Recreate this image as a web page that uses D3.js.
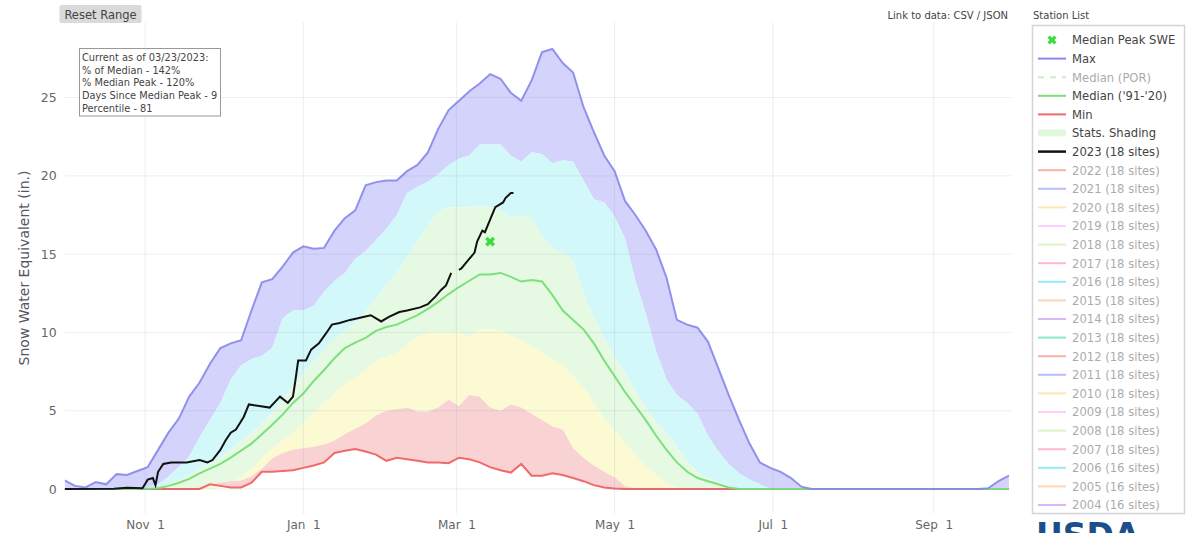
<!DOCTYPE html>
<meta charset="utf-8">
<style>
  body {
      margin: 0;
      padding: 0;
      background: #fff;
      font-family: 'DejaVu Sans', Verdana, sans-serif;
  }
  .tick text {
      fill: #666;
      font-size: 12px;
      font-family: 'DejaVu Sans', Verdana, sans-serif;
      white-space: pre;
  }
  .grid line {
      stroke: rgba(110, 120, 160, 0.13);
      stroke-width: 1;
  }
</style>
<body>
<svg id="chart" width="1204" height="533"></svg>
<script src="https://d3js.org/d3.v7.min.js"></script>
<script>
// stats every 4 days through the water year
var dates = [
    "2022-10-01","2022-10-05","2022-10-09","2022-10-13","2022-10-17","2022-10-21","2022-10-25","2022-10-29",
    "2022-11-02","2022-11-06","2022-11-10","2022-11-14","2022-11-18","2022-11-22","2022-11-26","2022-11-30",
    "2022-12-04","2022-12-08","2022-12-12","2022-12-16","2022-12-20","2022-12-24","2022-12-28",
    "2023-01-01","2023-01-05","2023-01-09","2023-01-13","2023-01-17","2023-01-21","2023-01-25","2023-01-29",
    "2023-02-02","2023-02-06","2023-02-10","2023-02-14","2023-02-18","2023-02-22","2023-02-26",
    "2023-03-02","2023-03-06","2023-03-10","2023-03-14","2023-03-18","2023-03-22","2023-03-26","2023-03-30",
    "2023-04-03","2023-04-07","2023-04-11","2023-04-15","2023-04-19","2023-04-23","2023-04-27",
    "2023-05-01","2023-05-05","2023-05-09","2023-05-13","2023-05-17","2023-05-21","2023-05-25","2023-05-29",
    "2023-06-02","2023-06-06","2023-06-10","2023-06-14","2023-06-18","2023-06-22","2023-06-26","2023-06-30",
    "2023-07-04","2023-07-08","2023-07-12","2023-07-16","2023-07-20","2023-07-24","2023-07-28",
    "2023-08-01","2023-08-05","2023-08-09","2023-08-13","2023-08-17","2023-08-21","2023-08-25","2023-08-29",
    "2023-09-02","2023-09-06","2023-09-10","2023-09-14","2023-09-18","2023-09-22","2023-09-26","2023-09-30"
];

var maxSwe = [
    0.55, 0.2, 0.1, 0.45, 0.3, 0.95, 0.9, 1.15, 1.4, 2.5,
    3.6, 4.5, 5.9, 6.8, 8.0, 9.0, 9.3, 9.5, 11.4, 13.2,
    13.4, 14.2, 15.1, 15.5, 15.35, 15.4, 16.5, 17.3, 17.8, 19.4,
    19.6, 19.7, 19.7, 20.3, 20.7, 21.5, 23.0, 24.2, 24.8, 25.4,
    25.9, 26.5, 26.2, 25.3, 24.8, 26.1, 27.9, 28.1, 27.2, 26.6,
    24.4, 22.8, 21.3, 20.3, 18.4, 17.5, 16.5, 15.3, 13.5, 10.8,
    10.5, 10.3, 9.4, 7.7, 6.0, 4.4, 2.9, 1.7, 1.35, 1.1,
    0.7, 0.15, 0, 0, 0, 0, 0, 0, 0, 0,
    0, 0, 0, 0, 0, 0, 0, 0, 0, 0.05,
    0.5, 0.85
];

var p90 = [
    0, 0, 0, 0, 0, 0, 0, 0, 0.1, 0.3,
    0.8, 1.4, 2.1, 3.3, 4.4, 5.5, 7.0, 7.9, 8.3, 8.5,
    9.0, 10.9, 11.4, 11.4, 11.7, 12.6, 13.3, 13.8, 14.7, 15.2,
    15.9, 16.6, 17.5, 18.9, 19.3, 19.6, 20.1, 20.7, 21.1, 21.3,
    22.0, 22.0, 22.0, 21.3, 20.9, 21.5, 21.4, 20.8, 21.0, 20.9,
    19.7, 18.5, 18.3, 17.4, 16.0, 13.3, 11.2, 8.8, 7.0, 6.0,
    5.5, 4.8, 3.4, 2.4, 1.6, 1.0, 0.6, 0.3, 0, 0,
    0, 0, 0, 0, 0, 0, 0, 0, 0, 0,
    0, 0, 0, 0, 0, 0, 0, 0, 0, 0,
    0, 0
];

var p70 = [
    0, 0, 0, 0, 0, 0, 0, 0, 0, 0.05,
    0.3, 0.55, 0.9, 1.3, 1.65, 2.0, 2.5, 3.1, 3.6, 4.2,
    4.9, 5.7, 6.6, 7.4, 8.2, 8.9, 9.6, 10.1, 10.6, 11.3,
    12.2, 13.0, 13.8, 14.8, 15.8, 16.8, 17.7, 18.0, 18.0, 18.0,
    18.1, 18.0, 17.8, 17.3, 17.5, 17.3, 16.2, 15.4, 15.1, 14.6,
    12.5, 11.0, 9.6, 8.5, 7.4, 6.3, 5.2, 4.3, 3.6, 2.7,
    1.8, 1.1, 0.7, 0.45, 0.2, 0.05, 0, 0, 0, 0,
    0, 0, 0, 0, 0, 0, 0, 0, 0, 0,
    0, 0, 0, 0, 0, 0, 0, 0, 0, 0,
    0, 0
];

var medianSwe = [
    0, 0, 0, 0, 0, 0, 0, 0, 0.02, 0.05,
    0.2, 0.4, 0.65, 1.0, 1.3, 1.6, 2.0, 2.45, 2.9, 3.5,
    4.1, 4.75, 5.5, 6.1, 6.9, 7.6, 8.35, 9.0, 9.35, 9.65,
    10.1, 10.35, 10.5, 10.8, 11.1, 11.5, 11.95, 12.45, 12.9, 13.3,
    13.7, 13.7, 13.8, 13.55, 13.25, 13.35, 13.25, 12.4, 11.4, 10.8,
    10.2, 9.3, 8.2, 7.2, 6.2, 5.3, 4.4, 3.4, 2.5, 1.7,
    1.1, 0.7, 0.5, 0.3, 0.1, 0, 0, 0, 0, 0,
    0, 0, 0, 0, 0, 0, 0, 0, 0, 0,
    0, 0, 0, 0, 0, 0, 0, 0, 0, 0,
    0, 0
];

var p30 = [
    0, 0, 0, 0, 0, 0, 0, 0, 0, 0,
    0, 0, 0, 0, 0, 0.1, 0.4, 0.8, 1.3, 1.95,
    2.6, 3.1, 3.6, 4.2, 4.9, 5.5, 6.1, 6.7, 7.1, 7.6,
    8.2, 8.4, 8.7, 9.2, 9.7, 10.0, 10.0, 10.0, 10.0, 9.7,
    10.2, 10.2, 10.1, 9.8, 9.5, 9.1, 8.7, 8.3, 7.9, 7.2,
    6.5, 5.5, 4.5, 3.7, 2.9, 2.2, 1.5, 0.9, 0.4, 0.1,
    0, 0, 0, 0, 0, 0, 0, 0, 0, 0,
    0, 0, 0, 0, 0, 0, 0, 0, 0, 0,
    0, 0, 0, 0, 0, 0, 0, 0, 0, 0,
    0, 0
];

var p10 = [
    0, 0, 0, 0, 0, 0, 0, 0, 0, 0,
    0, 0, 0, 0.1, 0.3, 0.4, 0.5, 0.55, 0.8, 1.3,
    1.95, 2.3, 2.5, 2.6, 2.7, 2.85, 3.1, 3.5, 3.85, 4.2,
    4.7, 5.0, 5.1, 5.2, 4.95, 4.95, 5.2, 5.7, 5.3, 6.0,
    5.9, 5.2, 5.0, 5.4, 5.2, 4.8, 4.4, 4.0, 3.8, 2.6,
    2.0, 1.5, 1.1, 0.75, 0.2, 0.05, 0, 0, 0, 0,
    0, 0, 0, 0, 0, 0, 0, 0, 0, 0,
    0, 0, 0, 0, 0, 0, 0, 0, 0, 0,
    0, 0, 0, 0, 0, 0, 0, 0, 0, 0,
    0, 0
];

var minSwe = [
    0, 0, 0, 0, 0, 0, 0, 0, 0, 0,
    0, 0, 0, 0, 0.3, 0.2, 0.1, 0.1, 0.4, 1.1,
    1.1, 1.15, 1.2, 1.35, 1.5, 1.7, 2.3, 2.45, 2.55, 2.4,
    2.2, 1.8, 2.0, 1.9, 1.8, 1.7, 1.7, 1.65, 2.0, 1.9,
    1.7, 1.4, 1.2, 1.05, 1.6, 0.85, 0.85, 1.0, 0.9, 0.7,
    0.5, 0.25, 0.1, 0.03, 0, 0, 0, 0, 0, 0,
    0, 0, 0, 0, 0, 0, 0, 0, 0, 0,
    0, 0, 0, 0, 0, 0, 0, 0, 0, 0,
    0, 0, 0, 0, 0, 0, 0, 0, 0, 0,
    0, 0
];

// current year, null = missing day
var dates2023 = [
    "2022-10-01","2022-10-20","2022-10-25","2022-10-31","2022-11-02","2022-11-04","2022-11-05","2022-11-06",
    "2022-11-08","2022-11-11","2022-11-17","2022-11-22","2022-11-25","2022-11-27","2022-11-30","2022-12-02",
    "2022-12-04","2022-12-06","2022-12-09","2022-12-11","2022-12-15","2022-12-19","2022-12-23","2022-12-26",
    "2022-12-28","2022-12-29","2022-12-30","2023-01-02","2023-01-04","2023-01-07","2023-01-10","2023-01-12",
    "2023-01-15","2023-01-19","2023-01-22","2023-01-27","2023-01-31","2023-02-03","2023-02-07","2023-02-10",
    "2023-02-15","2023-02-18","2023-02-21","2023-02-23","2023-02-25","2023-02-27","2023-02-28","2023-03-02",
    "2023-03-03","2023-03-05","2023-03-08","2023-03-09","2023-03-11","2023-03-12","2023-03-14","2023-03-16",
    "2023-03-19","2023-03-20","2023-03-22","2023-03-23"
];
var swe2023 = [
    0, 0.02, 0.08, 0.05, 0.6, 0.7, 0.25, 1.1,
    1.6, 1.7, 1.7, 1.85, 1.7, 1.85, 2.5, 3.1,
    3.6, 3.8, 4.6, 5.4, 5.3, 5.2, 5.9, 5.5,
    5.9, 7.0, 8.2, 8.2, 8.9, 9.3, 10.0, 10.5,
    10.6, 10.8, 10.9, 11.1, 10.7, 11.0, 11.3, 11.4,
    11.6, 11.8, 12.3, 12.7, 13.0, 13.8, null, 14.0,
    14.1, 14.5, 15.1, 15.8, 16.5, 16.4, 17.2, 18.0,
    18.3, 18.6, 18.9, 18.9
];

var medianPeakDate = "2023-03-14";
var medianPeakSwe = 15.8;

var yTicks = [0, 5, 10, 15, 20, 25];
var xTickDates = ["2022-11-01", "2023-01-01", "2023-03-01", "2023-05-01", "2023-07-01", "2023-09-01"];

var infoLines = [
    "Current as of 03/23/2023:",
    "% of Median - 142%",
    "% Median Peak - 120%",
    "Days Since Median Peak - 9",
    "Percentile - 81"
];

var legendNames = ["Median Peak SWE", "Max", "Median (POR)", "Median ('91-'20)", "Min", "Stats. Shading", "2023 (18 sites)"];
var legendColors = ["#3ddc3d", "#8787ea", "#7de07d", "#7de07d", "#f06a6a", "#e2f8dc", "#111"];
var legendShown = [true, true, false, true, true, true, true];
var years = [2022, 2021, 2020, 2019, 2018, 2017, 2016, 2015, 2014, 2013, 2012, 2011, 2010, 2009, 2008, 2007, 2006, 2005, 2004];
var yearSites = [18, 18, 18, 18, 18, 18, 18, 18, 18, 18, 18, 18, 18, 18, 18, 18, 16, 16, 16];
var yearColors = ["#EF553B", "#636EFA", "#FECB52", "#FF97FF", "#B6E880", "#FF6692", "#19D3F3", "#FFA15A", "#AB63FA", "#00CC96",
                  "#EF553B", "#636EFA", "#FECB52", "#FF97FF", "#B6E880", "#FF6692", "#19D3F3", "#FFA15A", "#AB63FA"];

var parse = d3.timeParse("%Y-%m-%d");

var plot = {left: 64.7, right: 1011.5, top: 22.4, bottom: 513.6};

var x = d3.scaleTime()
    .domain([parse("2022-10-01"), parse("2023-10-01")])
    .range([plot.left, plot.right]);

var y = d3.scaleLinear()
    .domain([-1.57, 29.8])
    .range([plot.bottom, plot.top]);

var svg = d3.select("#chart");

svg.append("defs").append("clipPath")
    .attr("id", "plotclip")
    .append("rect")
    .attr("x", plot.left)
    .attr("y", plot.top)
    .attr("width", plot.right - plot.left)
    .attr("height", plot.bottom - plot.top);

var stats = dates.map(function(d, i) {
    return {
        date: parse(d),
        max: maxSwe[i], p90: p90[i], p70: p70[i], med: medianSwe[i],
        p30: p30[i], p10: p10[i], min: minSwe[i]
    };
});

var g = svg.append("g").attr("clip-path", "url(#plotclip)");

// shading bands, top to bottom
var bands = [
    ["max", "p90", "#d4d3fb"],
    ["p90", "p70", "#d3f8f9"],
    ["p70", "p30", "#e6f9e2"],
    ["p30", "p10", "#fbfad3"],
    ["p10", "min", "#f9d3d3"]
];

bands.forEach(function(b) {
    var area = d3.area()
        .x(function(d) { return x(d.date); })
        .y1(function(d) { return y(d[b[0]]); })
        .y0(function(d) { return y(d[b[1]]); });
    g.append("path")
        .datum(stats)
        .attr("d", area)
        .attr("fill", b[2]);
});

// grid
var grid = svg.append("g").attr("class", "grid");
grid.selectAll(".hg")
    .data(yTicks)
    .enter().append("line")
    .attr("x1", plot.left)
    .attr("x2", plot.right)
    .attr("y1", function(d) { return y(d); })
    .attr("y2", function(d) { return y(d); });
grid.selectAll(".vg")
    .data(xTickDates)
    .enter().append("line")
    .attr("x1", function(d) { return x(parse(d)); })
    .attr("x2", function(d) { return x(parse(d)); })
    .attr("y1", plot.top)
    .attr("y2", plot.bottom);

function statLine(key) {
    return d3.line()
        .x(function(d) { return x(d.date); })
        .y(function(d) { return y(d[key]); });
}

g.append("path").datum(stats).attr("d", statLine("min"))
    .attr("fill", "none").attr("stroke", "#f06a6a").attr("stroke-width", 2);
g.append("path").datum(stats).attr("d", statLine("med"))
    .attr("fill", "none").attr("stroke", "#7de07d").attr("stroke-width", 2);
g.append("path").datum(stats).attr("d", statLine("max"))
    .attr("fill", "none").attr("stroke", "#8787ea").attr("stroke-width", 2).attr("stroke-opacity", 0.9);

var cur = dates2023.map(function(d, i) {
    return {date: parse(d), v: swe2023[i]};
});

g.append("path")
    .datum(cur)
    .attr("d", d3.line()
        .defined(function(d) { return d.v !== null; })
        .x(function(d) { return x(d.date); })
        .y(function(d) { return y(d.v); }))
    .attr("fill", "none")
    .attr("stroke", "#111")
    .attr("stroke-width", 2);

var xMark = d3.symbol().type(d3.symbolCross).size(62);
g.append("path")
    .attr("d", xMark)
    .attr("transform", "translate(" + x(parse(medianPeakDate)) + "," + y(medianPeakSwe) + ") rotate(45)")
    .attr("fill", "#3ddc3d");

// axes
var xAxis = svg.append("g")
    .attr("transform", "translate(0," + plot.bottom + ")")
    .call(d3.axisBottom(x)
        .tickValues(xTickDates.map(parse))
        .tickFormat(d3.timeFormat("%b %e"))
        .tickSize(0)
        .tickPadding(7));
xAxis.select(".domain").remove();

var yAxis = svg.append("g")
    .attr("transform", "translate(" + plot.left + ",0)")
    .call(d3.axisLeft(y)
        .tickValues(yTicks)
        .tickSize(0)
        .tickPadding(8));
yAxis.select(".domain").remove();
yAxis.selectAll("text").style("font-size", "12.5px");

svg.append("text")
    .attr("transform", "translate(29,268) rotate(-90)")
    .attr("text-anchor", "middle")
    .style("font-size", "14px")
    .style("fill", "#556")
    .text("Snow Water Equivalent (in.)");

// reset button
svg.append("rect")
    .attr("x", 59.5).attr("y", 5)
    .attr("width", 82).attr("height", 18)
    .attr("rx", 2)
    .attr("fill", "#dadada");
svg.append("text")
    .attr("x", 100.5).attr("y", 18.5)
    .attr("text-anchor", "middle")
    .style("font-size", "11.5px")
    .style("fill", "#444")
    .text("Reset Range");

// info box
svg.append("rect")
    .attr("x", 79.5).attr("y", 48.5)
    .attr("width", 141).attr("height", 67.5)
    .attr("fill", "#fff")
    .attr("stroke", "#999");
svg.selectAll(".info")
    .data(infoLines)
    .enter().append("text")
    .attr("x", 82)
    .attr("y", function(d, i) { return 61 + i * 12.7; })
    .style("font-size", "9.8px")
    .style("fill", "#444")
    .text(function(d) { return d; });

svg.append("text")
    .attr("x", 1008).attr("y", 19)
    .attr("text-anchor", "end")
    .style("font-size", "10px")
    .style("fill", "#444")
    .text("Link to data: CSV / JSON");
svg.append("text")
    .attr("x", 1033).attr("y", 19)
    .style("font-size", "10px")
    .style("fill", "#444")
    .text("Station List");

// legend
svg.append("rect")
    .attr("x", 1032.5).attr("y", 25.5)
    .attr("width", 152).attr("height", 488)
    .attr("fill", "#fff")
    .attr("stroke", "#d4d4d4")
    .attr("stroke-width", 1.5);

var legendItems = legendNames.map(function(n, i) {
    return {name: n, color: legendColors[i], on: legendShown[i], kind: i};
});
years.forEach(function(yr, i) {
    legendItems.push({name: yr + " (" + yearSites[i] + " sites)", color: yearColors[i], on: false, kind: 99});
});

var leg = svg.selectAll(".leg")
    .data(legendItems)
    .enter().append("g")
    .attr("transform", function(d, i) { return "translate(0," + (40 + i * 18.6) + ")"; })
    .attr("opacity", function(d) { return d.on ? 1 : 0.45; });

leg.each(function(d) {
    var el = d3.select(this);
    if (d.kind === 0) {
        el.append("path")
            .attr("d", d3.symbol().type(d3.symbolCross).size(52))
            .attr("transform", "translate(1052,0) rotate(45)")
            .attr("fill", d.color);
    } else {
        el.append("line")
            .attr("x1", 1038).attr("x2", 1066)
            .attr("stroke", d.color)
            .attr("stroke-width", d.kind === 5 ? 7 : (d.kind === 6 ? 2.5 : 2))
            .attr("stroke-dasharray", d.kind === 2 ? "6,6" : null);
    }
    el.append("text")
        .attr("x", 1072)
        .attr("y", 4.3)
        .style("font-size", "11.6px")
        .style("fill", "#444")
        .text(d.name);
});

svg.append("text")
    .attr("x", 1036).attr("y", 547)
    .style("font-size", "33px")
    .style("font-weight", "bold")
    .style("fill", "#1d4e8c")
    .text("USDA");
</script>
</body>
